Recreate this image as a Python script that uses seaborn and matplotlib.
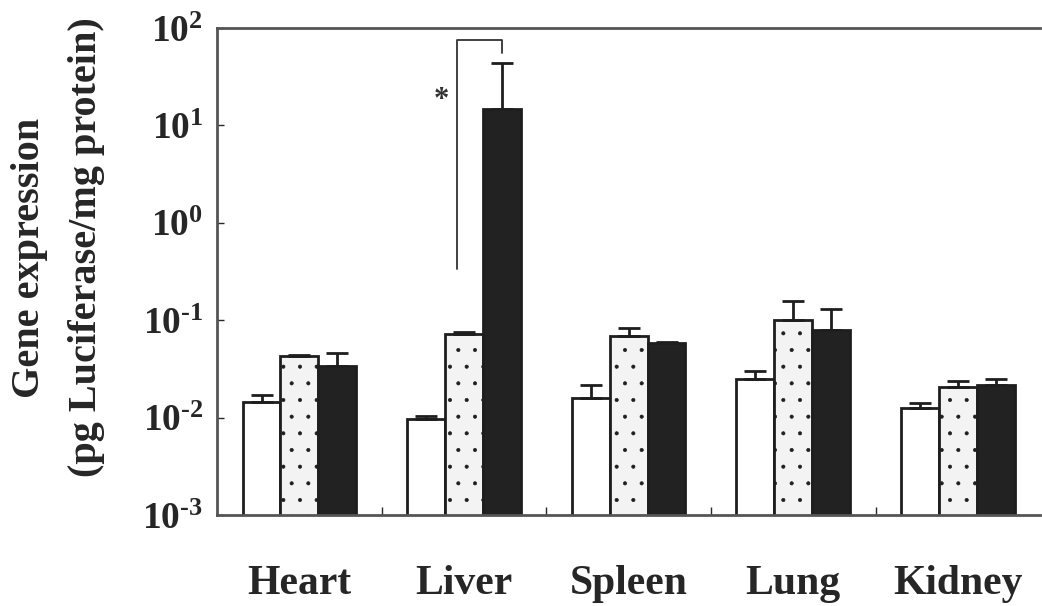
import matplotlib
matplotlib.use("Agg")
import matplotlib.pyplot as plt
from matplotlib.ticker import FixedLocator, FixedFormatter, NullLocator
import seaborn as sns
import pandas as pd

# values (log scale)
tissues = ["Heart", "Liver", "Spleen", "Lung", "Kidney"]
groups = ["Group 1", "Group 2", "Group 3"]
mean_g1 = [0.0146, 0.0096, 0.0158, 0.0247, 0.0125]
mean_g2 = [0.043, 0.073, 0.069, 0.100, 0.0205]
mean_g3 = [0.034, 14.6, 0.058, 0.079, 0.0216]
sd_g1 = [0.0024, 0.0009, 0.0058, 0.0056, 0.0015]
sd_g2 = [0.001, 0.002, 0.0136, 0.057, 0.0033]
sd_g3 = [0.012, 28.8, 0.0015, 0.051, 0.0033]
ytick_exp = [-3, -2, -1, 0, 1, 2]

sns.set_style("white")
plt.rcParams["font.family"] = ["Liberation Serif", "DejaVu Serif"]
plt.rcParams["font.weight"] = "bold"
plt.rcParams["mathtext.fontset"] = "custom"
plt.rcParams["mathtext.rm"] = "Liberation Serif:bold"
plt.rcParams["mathtext.bf"] = "Liberation Serif:bold"
plt.rcParams["mathtext.default"] = "bf"
plt.rcParams["hatch.linewidth"] = 0.45

df = pd.DataFrame({
    "tissue": tissues * 3,
    "group": [g for g in groups for _ in tissues],
    "value": mean_g1 + mean_g2 + mean_g3,
    "sd": sd_g1 + sd_g2 + sd_g3,
})

fig = plt.figure(figsize=(10.42, 6.06), dpi=100)
ax = fig.add_axes([0.2083, 0.150, 0.79, 0.8037])

palette = {"Group 1": "white", "Group 2": "#f3f3f3", "Group 3": "#222222"}
sns.barplot(data=df, x="tissue", y="value", hue="group", order=tissues,
            hue_order=groups, palette=palette, width=0.69, errorbar=None,
            edgecolor="#1e1e1e", linewidth=2.0, legend=False, ax=ax)
ax.set_yscale("log")
bars = list(ax.containers)

# stipple on middle group, error bars (upper only)
for gi, cont in enumerate(bars):
    sub = df[df["group"] == groups[gi]].set_index("tissue").loc[tissues]
    xs = []
    for p in cont.patches:
        xs.append(p.get_x() + p.get_width() / 2)
        if gi == 1:
            p.set_hatch(".")
    ax.errorbar(xs, sub["value"], yerr=[[0] * len(xs), sub["sd"]], fmt="none",
                ecolor="#1e1e1e", elinewidth=2.0, capsize=8, capthick=2.0)

# significance bracket in Liver
liver = tissues.index("Liver")
p2 = bars[1].patches[liver]
p3 = bars[2].patches[liver]
xa = p2.get_x() + p2.get_width() / 2 - 0.04
xb = p3.get_x() + p3.get_width() / 2
ax.plot([xa, xa, xb, xb], [0.34, 75, 75, 55], color="#333333", lw=1.3)
ax.text(xa - 0.1, 18, "*", ha="center", va="center", fontsize=22, color="#333333")

ax.set_xlim(-0.5, 4.5)
ax.set_ylim(1e-3, 1e2)
ax.yaxis.set_major_locator(FixedLocator([10.0 ** e for e in ytick_exp]))
ax.yaxis.set_major_formatter(FixedFormatter(
    [r"$10^{%s}$" % str(e).replace("-", "\u2010") for e in ytick_exp]))
ax.yaxis.set_minor_locator(NullLocator())
ax.xaxis.set_minor_locator(FixedLocator([0.5, 1.5, 2.5, 3.5]))
ax.tick_params(axis="y", which="major", direction="in", length=5, width=1,
               labelsize=27, pad=10, left=True)
ax.tick_params(axis="x", which="major", length=0, labelsize=30, pad=36)
ax.tick_params(axis="x", which="minor", direction="in", length=6, width=1, bottom=True)
for lab in ax.get_xticklabels() + ax.get_yticklabels():
    lab.set_fontweight("bold")
ax.set_xlabel("")
ax.set_ylabel("")

for s in ["left", "bottom", "top"]:
    ax.spines[s].set_color("#555555")
    ax.spines[s].set_linewidth(2.0)
ax.spines["right"].set_visible(False)

fig.text(0.028, 0.574, "Gene expression", rotation=90, ha="center", va="center",
         fontsize=29, fontweight="bold")
fig.text(0.083, 0.592, "(pg Luciferase/mg protein)", rotation=90, ha="center",
         va="center", fontsize=29, fontweight="bold")

fig.savefig("out.png", dpi=100)
